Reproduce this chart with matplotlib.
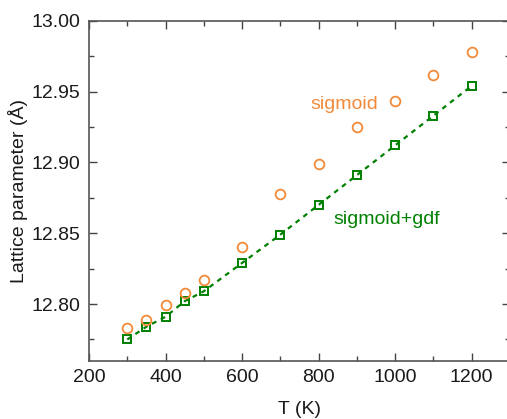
import numpy as np
import matplotlib.pyplot as plt
from matplotlib.ticker import MultipleLocator

plt.rcParams['font.family'] = ['Liberation Sans', 'DejaVu Sans']

# Temperatures (K)
temps = [300, 350, 400, 450, 500, 600, 700, 800, 900, 1000, 1100, 1200]

# Lattice parameter from the sigmoid model (Angstrom)
a_sigmoid = [12.783, 12.789, 12.799, 12.808, 12.817, 12.840,
             12.878, 12.899, 12.925, 12.943, 12.962, 12.978]

# Lattice parameter from the sigmoid+gdf model (Angstrom)
a_sigmoid_gdf = [12.775, 12.784, 12.791, 12.802, 12.809, 12.829,
                 12.849, 12.870, 12.891, 12.912, 12.933, 12.954]

orange = '#f28a3a'
green = '#008000'

fig = plt.figure(figsize=(5.07, 4.19), dpi=100)
ax = fig.add_axes([89 / 507, 1 - 360.7 / 419, (510 - 89) / 507, (360.7 - 20.7) / 419])

ax.plot(temps, a_sigmoid_gdf, color=green, linestyle=(0, (2.2, 2.2)), linewidth=1.6, zorder=2)
ax.plot(temps, a_sigmoid_gdf, linestyle='none', marker='s', markersize=6.3,
        markerfacecolor='none', markeredgecolor=green, markeredgewidth=1.4, zorder=3)
ax.plot(temps, a_sigmoid, linestyle='none', marker='o', markersize=7,
        markerfacecolor='none', markeredgecolor=orange, markeredgewidth=1.3, zorder=3)

ax.text(0.606, 0.755, 'sigmoid', color=orange, fontsize=14, ha='center', va='center',
        transform=ax.transAxes)
ax.text(0.707, 0.414, 'sigmoid+gdf', color=green, fontsize=14, ha='center', va='center',
        transform=ax.transAxes)

ax.set_xlim(200, 1300)
ax.set_ylim(12.76, 13.00)
ax.xaxis.set_major_locator(MultipleLocator(200))
ax.xaxis.set_minor_locator(MultipleLocator(100))
ax.yaxis.set_major_locator(MultipleLocator(0.05))
ax.yaxis.set_minor_locator(MultipleLocator(0.025))
ax.yaxis.set_major_formatter(plt.FormatStrFormatter('%.2f'))

ax.tick_params(which='both', direction='in', top=True, right=True, colors='#444444',
               labelcolor='#1a1a1a', labelsize=14, width=1)
ax.tick_params(which='major', length=6, pad=6)
ax.tick_params(which='minor', length=3.5)
for sp in ax.spines.values():
    sp.set_color('#555555')
    sp.set_linewidth(1.2)

ax.set_xlabel('T (K)', fontsize=14, color='#1a1a1a', labelpad=11)
ax.set_ylabel('Lattice parameter (Å)', fontsize=14, color='#1a1a1a', labelpad=3)

fig.savefig('out.png', dpi=100)
